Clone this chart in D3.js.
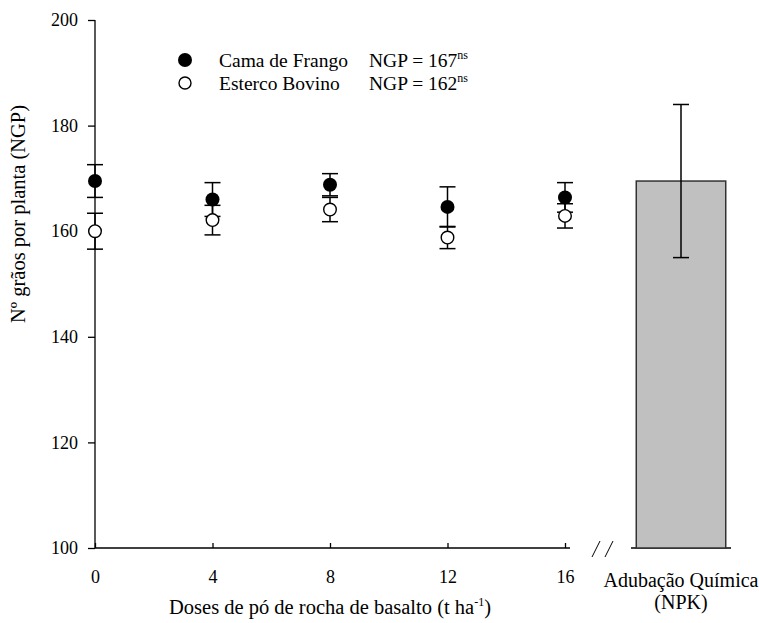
<!DOCTYPE html>
<html lang="pt">
<head>
<meta charset="UTF-8">
<title>NGP</title>
<script src="https://cdn.jsdelivr.net/npm/d3@7"></script>
<style>
    body { margin: 0; background: #fff; }
    svg text { font-family: "Liberation Serif", "Times New Roman", Times, serif; }
</style>
</head>
<body>
<script>
'use strict';
// doses (t/ha)
var doses = [0, 4, 8, 12, 16];
var camaMean = [169.5, 166.0, 168.8, 164.6, 166.4];
var camaErr = [3.1, 3.2, 2.1, 3.8, 2.8];
var bovinoMean = [160.0, 162.1, 164.1, 158.8, 162.9];
var bovinoErr = [3.4, 2.8, 2.3, 2.1, 2.3];
var npkLabel = ['Adubação Química', '(NPK)'];
var npkMean = [169.5];
var npkErr = [14.5];
var yTicks = [100, 120, 140, 160, 180, 200];
var legendNames = ['Cama de Frango', 'Esterco Bovino'];
var legendStats = ['NGP = 167', 'NGP = 162'];

var w = 759, h = 623;
var svg = d3.select('body').append('svg')
    .attr('width', w).attr('height', h);

var x = d3.scaleLinear().domain([0, 16]).range([95, 565]);
var y = d3.scaleLinear().domain([100, 200]).range([548, 20]);
var xb = d3.scaleBand().domain(['npk']).range([630, 732]).paddingInner(0).paddingOuter(0.07);

// y axis
var yAxis = svg.append('g')
    .attr('transform', 'translate(95,0)')
    .call(d3.axisLeft(y).tickValues(yTicks).tickSize(7).tickPadding(10));
yAxis.select('.domain').attr('d', 'M0,' + y(200) + 'V' + y(100));

// x axis (ticks inward)
var xAxis = svg.append('g')
    .attr('transform', 'translate(0,548)')
    .call(d3.axisBottom(x).tickValues(doses).tickSize(-5).tickPadding(22));
xAxis.select('.domain').attr('d', 'M' + x(0) + ',0H' + (x(16) + 5));
svg.selectAll('.tick text').attr('font-size', null).style('font-size', '18px');
svg.selectAll('.domain, .tick line').attr('stroke', '#000').attr('stroke-width', 1.3);

// break marks
[0, 13].forEach(function(dx) {
    svg.append('line')
        .attr('x1', 592 + dx).attr('y1', 557)
        .attr('x2', 600 + dx).attr('y2', 541)
        .attr('stroke', '#000').attr('stroke-width', 1);
});

// NPK bar
svg.append('line')
    .attr('x1', 631).attr('x2', 731)
    .attr('y1', y(100)).attr('y2', y(100))
    .attr('stroke', '#000').attr('stroke-width', 1.5);
svg.selectAll('.bar')
    .data(npkMean)
    .enter().append('rect')
    .attr('class', 'bar')
    .attr('x', xb('npk'))
    .attr('width', xb.bandwidth())
    .attr('y', function(d) { return y(d); })
    .attr('height', function(d) { return y(100) - y(d); })
    .attr('fill', '#c0c0c0')
    .attr('stroke', '#333')
    .attr('stroke-width', 1.5);

function errBar(g, cx, m, e) {
    g.append('line').attr('x1', cx).attr('x2', cx)
        .attr('y1', y(m + e)).attr('y2', y(m - e));
    [m + e, m - e].forEach(function(v) {
        g.append('line').attr('x1', cx - 8).attr('x2', cx + 8)
            .attr('y1', y(v)).attr('y2', y(v));
    });
}
var eg = svg.append('g').attr('stroke', '#000').attr('stroke-width', 1.5);
errBar(eg, xb('npk') + xb.bandwidth() / 2, npkMean[0], npkErr[0]);
doses.forEach(function(d, i) {
    errBar(eg, x(d), bovinoMean[i], bovinoErr[i]);
    errBar(eg, x(d), camaMean[i], camaErr[i]);
});

// points
svg.selectAll('.bov')
    .data(doses)
    .enter().append('circle')
    .attr('class', 'bov')
    .attr('cx', function(d) { return x(d); })
    .attr('cy', function(d, i) { return y(bovinoMean[i]); })
    .attr('r', 6.3)
    .attr('fill', '#fff').attr('stroke', '#000').attr('stroke-width', 1.4);
svg.selectAll('.cama')
    .data(doses)
    .enter().append('circle')
    .attr('class', 'cama')
    .attr('cx', function(d) { return x(d); })
    .attr('cy', function(d, i) { return y(camaMean[i]); })
    .attr('r', 7)
    .attr('fill', '#000');

// legend
var lg = svg.append('g');
legendNames.forEach(function(n, i) {
    var ly = 60 + i * 23;
    lg.append('circle')
        .attr('cx', 185).attr('cy', ly)
        .attr('r', i === 0 ? 7 : 6)
        .attr('fill', i === 0 ? '#000' : '#fff')
        .attr('stroke', '#000').attr('stroke-width', i === 0 ? 0 : 1.4);
    lg.append('text')
        .attr('x', 219).attr('y', ly + 7)
        .style('font-size', '19.5px')
        .text(n);
    var t = lg.append('text')
        .attr('x', 369).attr('y', ly + 7)
        .style('font-size', '19.5px')
        .text(legendStats[i]);
    t.append('tspan').attr('dy', -8).style('font-size', '12px').text('ns');
});

// axis titles
var xt = svg.append('text')
    .attr('x', 330).attr('y', 614)
    .attr('text-anchor', 'middle')
    .style('font-size', '20.5px')
    .text('Doses de pó de rocha de basalto (t ha');
xt.append('tspan').attr('dy', -8).style('font-size', '12px').text('-1');
xt.append('tspan').attr('dy', 8).text(')');

svg.append('text')
    .attr('transform', 'translate(25,214) rotate(-90)')
    .attr('text-anchor', 'middle')
    .style('font-size', '20.5px')
    .text('Nº grãos por planta (NGP)');

svg.selectAll('.npklab')
    .data(npkLabel)
    .enter().append('text')
    .attr('class', 'npklab')
    .attr('x', xb('npk') + xb.bandwidth() / 2)
    .attr('y', function(d, i) { return 587 + i * 22; })
    .attr('text-anchor', 'middle')
    .style('font-size', '20px')
    .text(function(d) { return d; });
</script>
</body>
</html>
